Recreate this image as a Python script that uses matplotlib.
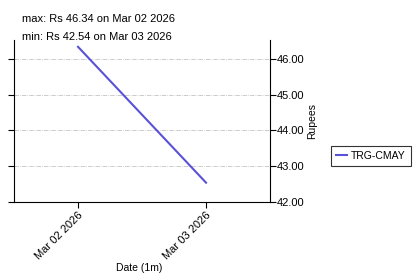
import numpy as np
import matplotlib
matplotlib.use("Agg")
import matplotlib.pyplot as plt
import matplotlib.dates as mdates
from datetime import datetime, timedelta

# data
fechas = [datetime(2026, 3, 2), datetime(2026, 3, 3)]
precios = [46.34, 42.54]
serie = "TRG-CMAY"
etiquetas_y = [42.0, 43.0, 44.0, 45.0, 46.0]

plt.rcParams['font.family'] = ['Liberation Sans', 'DejaVu Sans']

fig = plt.figure(figsize=(4.17, 2.75), dpi=100)
ax = fig.add_axes([0.0336, 0.2655, 0.614, 0.589])

ax.plot(fechas, precios, color='#5a52d6', linewidth=1.5, label=serie)

ax.set_xlim(fechas[0] - timedelta(hours=12), fechas[-1] + timedelta(hours=12))
ax.set_ylim(42.0, 46.53)
ax.set_yticks(etiquetas_y)
ax.yaxis.set_major_formatter(matplotlib.ticker.FormatStrFormatter('%.2f'))
ax.xaxis.set_major_locator(mdates.DayLocator())
ax.xaxis.set_major_formatter(mdates.DateFormatter('%b %d %Y'))

ax.spines['top'].set_visible(False)
ax.yaxis.tick_right()
ax.yaxis.set_label_position('right')
ax.tick_params(axis='y', which='both', left=True, right=True, labelleft=False,
               labelright=True, direction='out', length=4, labelsize=8, pad=1)
ax.tick_params(axis='x', direction='out', length=4, labelsize=8, pad=2)
for lab in ax.get_xticklabels():
    lab.set_rotation(45)
    lab.set_ha('right')
    lab.set_rotation_mode('anchor')

ax.grid(True, axis='y', color='#b8b8b8', linestyle='-.', linewidth=0.5)

ax.set_xlabel('Date (1m)', fontsize=7.5)
ax.xaxis.set_label_coords(0.49, -0.375)
ax.set_ylabel('Rupees', fontsize=7.5, labelpad=2)

fig.text(0.053, 0.93, f"max: Rs {max(precios):.2f} on Mar 02 2026", fontsize=8, va='center')
fig.text(0.053, 0.865, f"min: Rs {min(precios):.2f} on Mar 03 2026", fontsize=8, va='center')

leg = ax.legend(loc='center left', bbox_to_anchor=(1.238, 0.285), fontsize=7.5,
                frameon=True, fancybox=False, handlelength=1.0, handletextpad=0.4,
                borderpad=0.5, borderaxespad=0)
leg.get_frame().set_edgecolor('black')
leg.get_frame().set_linewidth(0.8)

fig.savefig('out.png', dpi=100)
